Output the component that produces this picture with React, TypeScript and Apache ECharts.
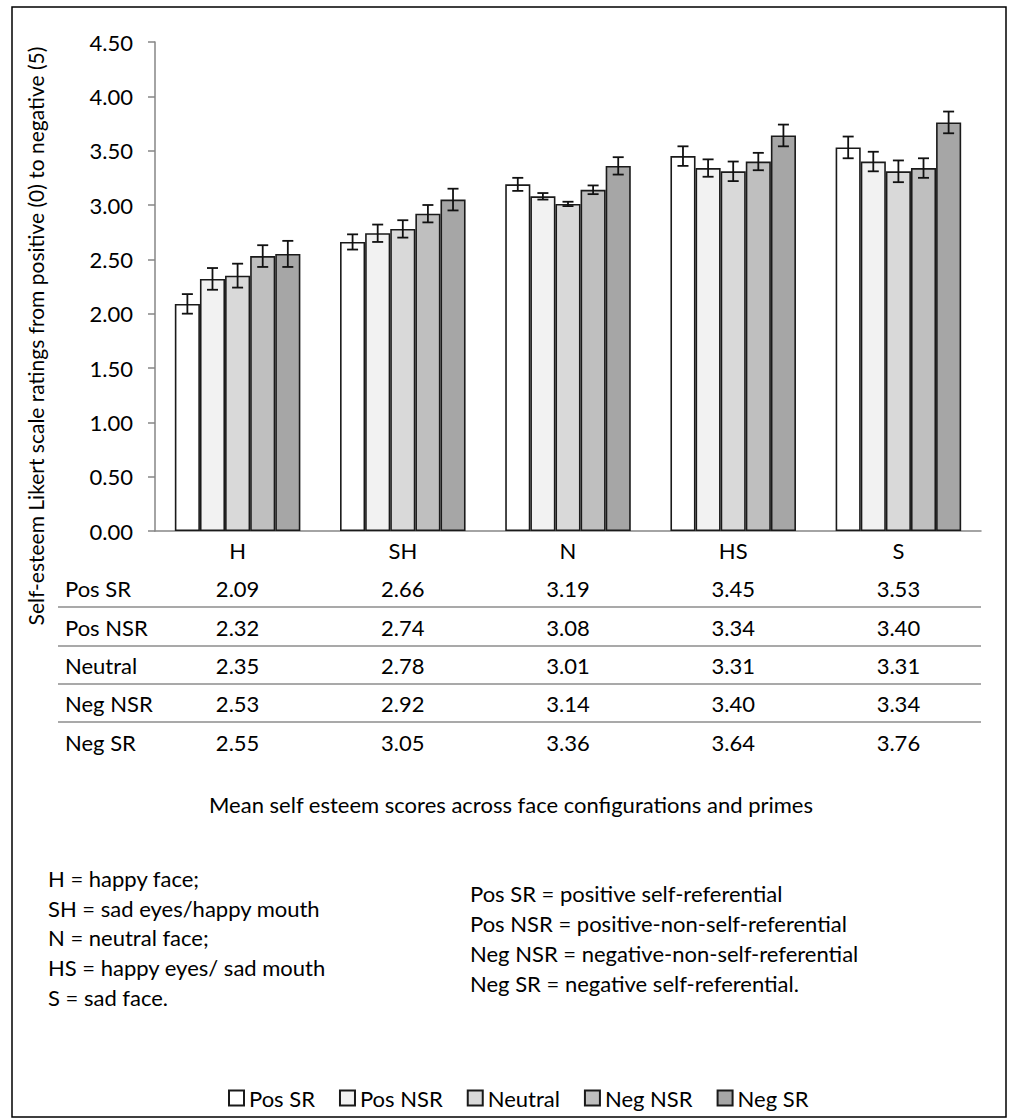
import React, { useEffect, useRef } from "react";
import * as echarts from "echarts";

const categories = ["H", "SH", "N", "HS", "S"];
const seriesNames = ["Pos SR", "Pos NSR", "Neutral", "Neg NSR", "Neg SR"];
const seriesColors = ["#FFFFFF", "#F2F2F2", "#D9D9D9", "#BFBFBF", "#A6A6A6"];

const posSR = [2.09, 2.66, 3.19, 3.45, 3.53];
const posNSR = [2.32, 2.74, 3.08, 3.34, 3.4];
const neutral = [2.35, 2.78, 3.01, 3.31, 3.31];
const negNSR = [2.53, 2.92, 3.14, 3.4, 3.34];
const negSR = [2.55, 3.05, 3.36, 3.64, 3.76];

const errPosSR = [0.09, 0.07, 0.06, 0.09, 0.1];
const errPosNSR = [0.1, 0.08, 0.03, 0.08, 0.09];
const errNeutral = [0.11, 0.08, 0.02, 0.09, 0.1];
const errNegNSR = [0.1, 0.08, 0.04, 0.08, 0.09];
const errNegSR = [0.12, 0.1, 0.08, 0.1, 0.1];

const yMin = 0;
const yMax = 4.5;
const yInterval = 0.5;

const yAxisTitle = "Self-esteem Likert scale ratings from positive (0) to negative (5)";
const chartTitle = "Mean self esteem scores across face configurations and primes";
const notesLeft = [
  "H = happy face;",
  "SH = sad eyes/happy mouth",
  "N = neutral face;",
  "HS = happy eyes/ sad mouth",
  "S = sad face.",
];
const notesRight = [
  "Pos SR = positive self-referential",
  "Pos NSR = positive-non-self-referential",
  "Neg NSR = negative-non-self-referential",
  "Neg SR = negative self-referential.",
];

const FONT = "Lato";
const W = 1013;
const H = 1120;

export default function App() {
  const ref = useRef<HTMLDivElement>(null);

  useEffect(() => {
    if (!ref.current) return;
    const chart = echarts.init(ref.current, null, { renderer: "svg", width: W, height: H });

    const values = [posSR, posNSR, neutral, negNSR, negSR];
    const errs = [errPosSR, errPosNSR, errNeutral, errNegNSR, errNegSR];

    const gridLeft = 155;
    const gridRight = 32;
    const gridTop = 42;
    const axisY = 531;
    const rowCenters = [588, 627, 665, 703, 742];
    const sepYs = [607, 646, 684, 722];
    const fs = 22;

    const textStyle = (text: string, align: string, size = fs) => ({
      text,
      fontSize: size,
      fontFamily: FONT,
      fill: "#000",
      textAlign: align,
      textVerticalAlign: "middle",
      align,
      verticalAlign: "middle",
    });

    const barSeries = seriesNames.map((name, si) => ({
      name,
      type: "bar",
      xAxisIndex: 0,
      yAxisIndex: 0,
      data: values[si],
      barGap: "0%",
      barCategoryGap: "24%",
      itemStyle: { color: seriesColors[si], borderColor: "#1a1a1a", borderWidth: 1.6 },
      emphasis: { disabled: true },
      z: 2,
    }));

    const errSeries = seriesNames.map((name, si) => ({
      name: "err-" + name,
      type: "custom",
      xAxisIndex: 0,
      yAxisIndex: 0,
      z: 5,
      encode: { x: 0, y: 1 },
      data: values[si].map((v, i) => [i, v, errs[si][i]]),
      renderItem: (params: any, api: any) => {
        const idx = api.value(0);
        const v = api.value(1);
        const e = api.value(2);
        const c = api.coord([idx, v]);
        const band = api.size([1, 0])[0];
        const bw = (band * 0.76) / 5;
        const x = c[0] + (si - 2) * bw;
        const yt = api.coord([idx, v + e])[1];
        const yb = api.coord([idx, v - e])[1];
        const hw = 5.5;
        const style = { stroke: "#111", lineWidth: 1.8 };
        return {
          type: "group",
          children: [
            { type: "line", shape: { x1: x, y1: yt, x2: x, y2: yb }, style },
            { type: "line", shape: { x1: x - hw, y1: yt, x2: x + hw, y2: yt }, style },
            { type: "line", shape: { x1: x - hw, y1: yb, x2: x + hw, y2: yb }, style },
          ],
        };
      },
    }));

    const tableAxes = values.map((vals, si) => ({
      type: "category",
      gridIndex: 0,
      position: "bottom",
      offset: rowCenters[si] - axisY - fs / 2,
      data: vals.map((v) => v.toFixed(2)),
      axisLine: { show: false },
      axisTick: { show: false },
      axisLabel: {
        margin: 0,
        fontSize: fs,
        lineHeight: fs,
        fontFamily: FONT,
        color: "#000",
      },
    }));

    const graphics: any[] = [
      {
        type: "rect",
        shape: { x: 12, y: 7, width: 994, height: 1110 },
        style: { fill: "none", stroke: "#000", lineWidth: 1.5 },
        z: 0,
      },
      {
        type: "text",
        x: 35,
        y: 336,
        rotation: Math.PI / 2,
        style: textStyle(yAxisTitle, "center", 21),
      },
      {
        type: "text",
        x: 511,
        y: 804,
        style: textStyle(chartTitle, "center", 22),
      },
    ];

    seriesNames.forEach((name, i) => {
      graphics.push({
        type: "text",
        x: 65,
        y: rowCenters[i],
        style: textStyle(name, "left"),
      });
    });

    sepYs.forEach((y) => {
      graphics.push({
        type: "line",
        shape: { x1: 58, y1: y, x2: W - gridRight, y2: y },
        style: { stroke: "#8c8c8c", lineWidth: 1.5 },
      });
    });

    const leftYs = [878, 908, 937, 967, 997];
    notesLeft.forEach((t, i) => {
      graphics.push({
        type: "text",
        x: 48,
        y: leftYs[i],
        style: textStyle(t, "left"),
      });
    });

    const rightYs = [893, 923, 953, 983];
    notesRight.forEach((t, i) => {
      graphics.push({
        type: "text",
        x: 470,
        y: rightYs[i],
        style: textStyle(t, "left"),
      });
    });

    chart.setOption({
      animation: false,
      backgroundColor: "#fff",
      grid: {
        left: gridLeft,
        right: gridRight,
        top: gridTop,
        bottom: H - axisY,
        containLabel: false,
      },
      legend: {
        data: seriesNames,
        left: 223,
        top: 1082,
        icon: "rect",
        itemWidth: 15,
        itemHeight: 15,
        itemGap: 24,
        textStyle: { fontSize: 22, fontFamily: FONT, color: "#000" },
        selectedMode: false,
      },
      xAxis: [
        {
          type: "category",
          gridIndex: 0,
          position: "bottom",
          data: categories,
          axisLine: { show: true, lineStyle: { color: "#868686", width: 1.5 } },
          axisTick: { show: false },
          axisLabel: {
            margin: 8,
            fontSize: fs,
            lineHeight: fs,
            fontFamily: FONT,
            color: "#000",
          },
        },
        ...tableAxes,
      ],
      yAxis: {
        type: "value",
        min: yMin,
        max: yMax,
        interval: yInterval,
        axisLine: { show: true, lineStyle: { color: "#868686", width: 1.5 } },
        axisTick: { show: true, inside: false, length: 7, lineStyle: { color: "#868686", width: 1.5 } },
        splitLine: { show: false },
        axisLabel: {
          margin: 22,
          fontSize: fs,
          fontFamily: FONT,
          color: "#000",
          formatter: (v: number) => v.toFixed(2),
        },
      },
      series: [...barSeries, ...errSeries],
      graphic: graphics,
    });

    return () => chart.dispose();
  }, []);

  return (
    <div
      ref={ref}
      style={{ position: "absolute", left: 0, top: 0, width: W, height: H, background: "#fff" }}
    />
  );
}
